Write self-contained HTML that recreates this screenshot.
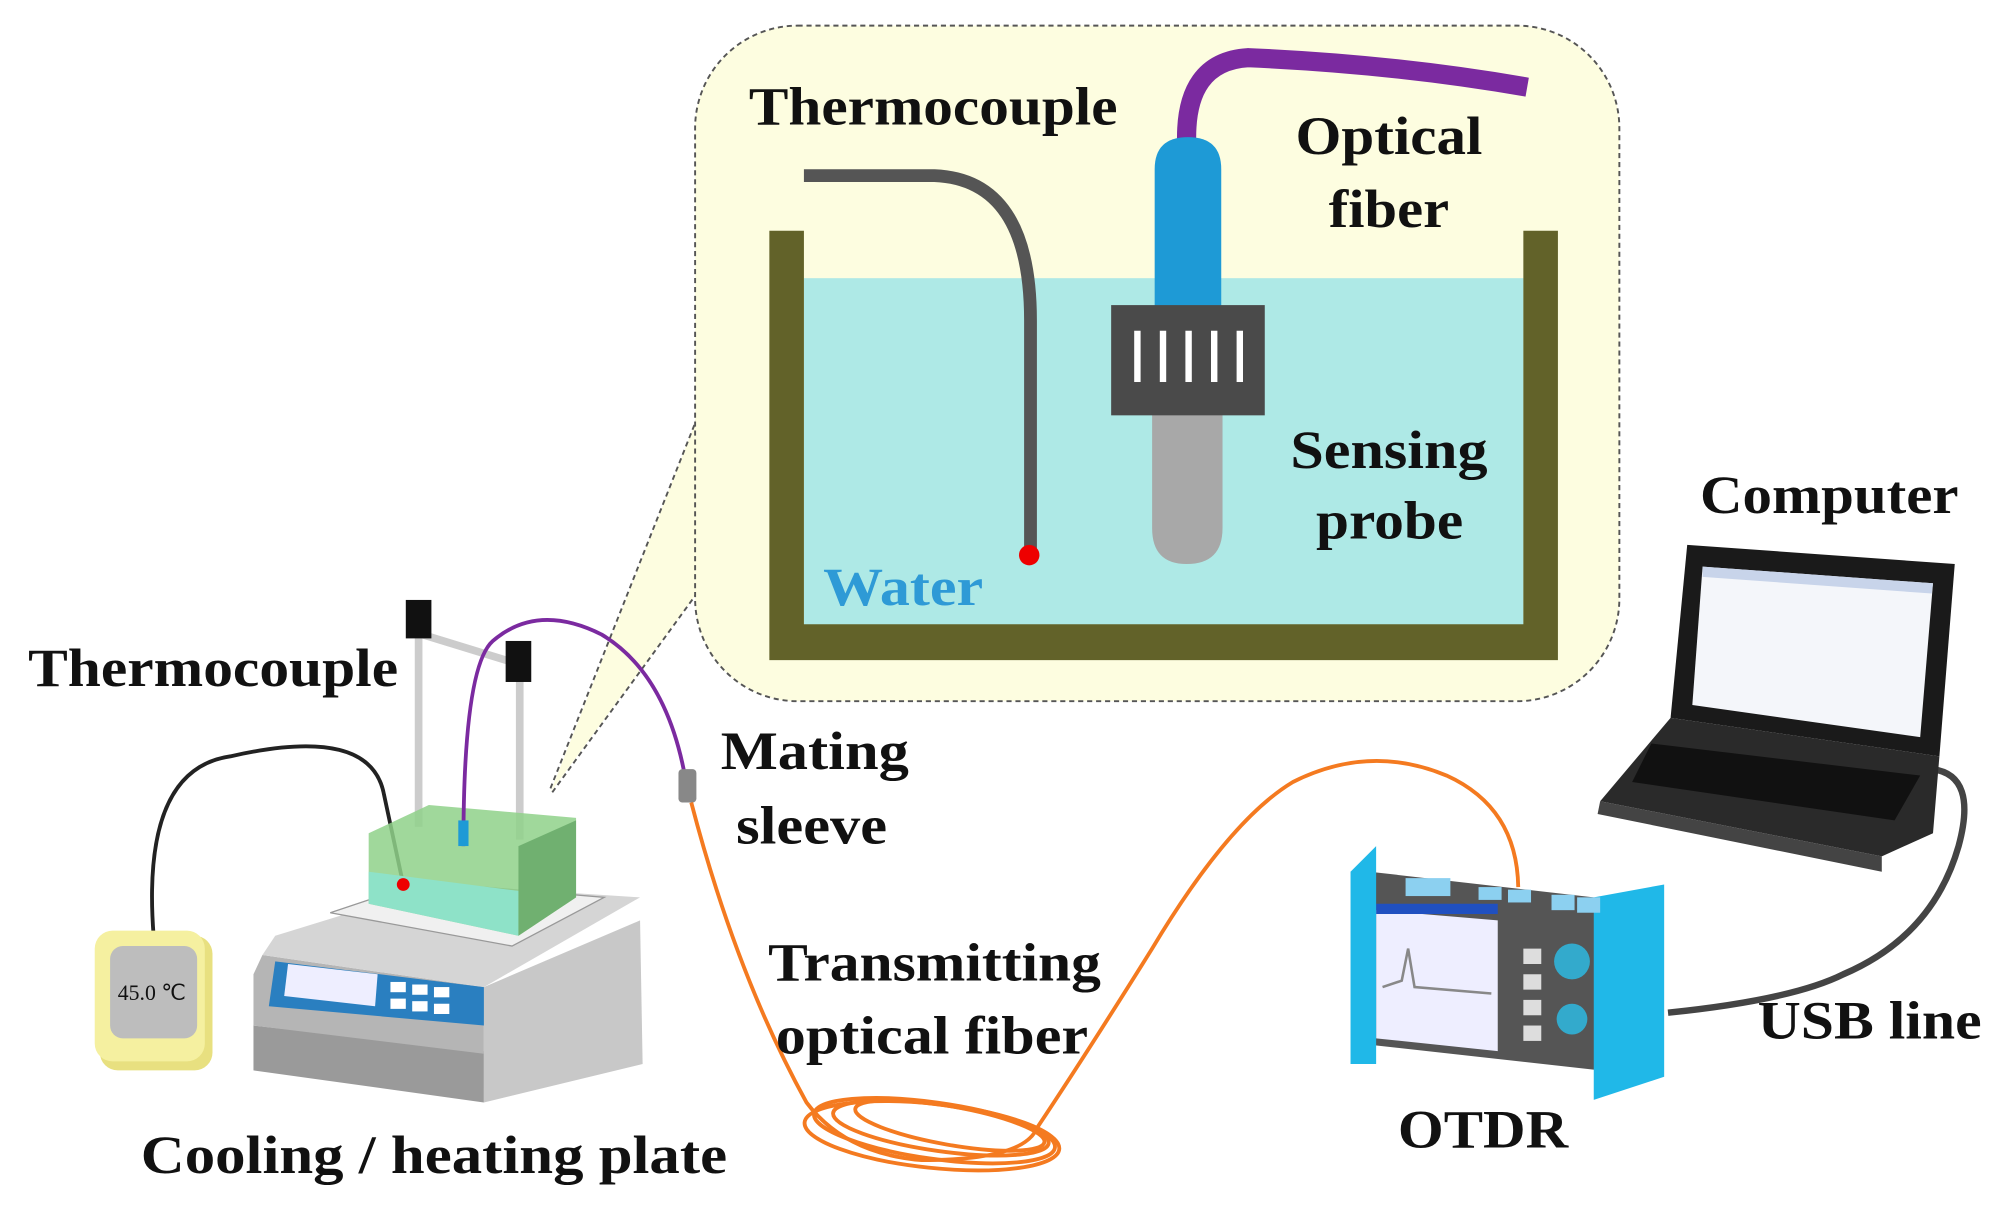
<!DOCTYPE html>
<html><head><meta charset="utf-8"><style>
html,body{margin:0;padding:0;background:#fff;}
svg{display:block}
text{font-family:"Liberation Serif",serif;font-weight:bold;fill:#111;font-size:42px}
</style></head><body>
<svg width="1997" height="1205" viewBox="0 0 1560 940" preserveAspectRatio="none" xmlns="http://www.w3.org/2000/svg">
<!-- callout -->
<polygon points="545,325 430,618 545,462" fill="#fdfde0"/>
<line x1="545" y1="325" x2="430" y2="615" stroke="#555" stroke-width="1.5" stroke-dasharray="4,3"/>
<line x1="545" y1="462" x2="430" y2="620" stroke="#555" stroke-width="1.5" stroke-dasharray="4,3"/>
<rect x="543" y="20" width="722" height="527" rx="80" fill="#fdfde0" stroke="#555" stroke-width="1.5" stroke-dasharray="4,3"/>
<rect x="628" y="217" width="562" height="272" fill="#aee9e6"/>
<path d="M601,180 H628 V487 H1190 V180 H1217 V515 H601 Z" fill="#626229"/>
<path d="M628,137 H730 Q805,140 805,250 V432" fill="none" stroke="#555" stroke-width="10"/>
<circle cx="804" cy="433" r="8" fill="#e00"/>
<path d="M927,112 Q925,48 975,45 Q1090,50 1193,68" fill="none" stroke="#7b2aa0" stroke-width="15"/>
<path d="M902,240 V132 Q902,107 928,107 Q954,107 954,132 V240 Z" fill="#1e9ad6"/>
<path d="M900,322 H955 V412 Q955,440 927,440 Q900,440 900,412 Z" fill="#a8a8a8"/>
<rect x="868" y="238" width="120" height="86" fill="#4a4a4a"/>
<g fill="#fff"><rect x="886" y="258" width="5" height="40"/><rect x="906" y="258" width="5" height="40"/><rect x="926" y="258" width="5" height="40"/><rect x="946" y="258" width="5" height="40"/><rect x="966" y="258" width="5" height="40"/></g>
<text x="585" y="97" textLength="288" lengthAdjust="spacingAndGlyphs">Thermocouple</text>
<text x="1012" y="120" textLength="146" lengthAdjust="spacingAndGlyphs">Optical</text>
<text x="1038" y="177" textLength="94" lengthAdjust="spacingAndGlyphs">fiber</text>
<text x="1008" y="365" textLength="154" lengthAdjust="spacingAndGlyphs">Sensing</text>
<text x="1028" y="420" textLength="115" lengthAdjust="spacingAndGlyphs">probe</text>
<text x="643" y="472" textLength="125" lengthAdjust="spacingAndGlyphs" style="fill:#2e9ad6">Water</text>
<!-- left setup -->
<path d="M120,730 Q110,600 180,590 Q290,565 300,620 L315,690" fill="none" stroke="#222" stroke-width="3"/>
<rect x="78" y="730" width="88" height="105" rx="14" fill="#e8e080"/>
<rect x="74" y="726" width="86" height="102" rx="14" fill="#f5f0a0"/>
<rect x="86" y="738" width="68" height="72" rx="10" fill="#bdbdbd"/>
<text x="92" y="780" style="font-size:17px;font-weight:normal">45.0 ℃</text>
<polygon points="198,800 378,820 378,860 198,835" fill="#9a9a9a"/>
<polygon points="205,745 378,770 378,822 198,800 198,760" fill="#b5b5b5"/>
<polygon points="378,770 500,718 502,830 378,860" fill="#c8c8c8"/>
<polygon points="215,730 345,690 500,700 378,770 205,745" fill="#d5d5d5"/>
<polygon points="258,712 330,688 472,700 400,738" fill="#f0f0f0" stroke="#999"/>
<polygon points="215,750 378,770 378,800 210,785" fill="#2a7fc0"/>
<polygon points="225,752 295,760 293,785 222,777" fill="#eef"/>
<g fill="#fff"><rect x="305" y="766" width="12" height="8"/><rect x="322" y="768" width="12" height="8"/><rect x="339" y="770" width="12" height="8"/><rect x="305" y="779" width="12" height="8"/><rect x="322" y="781" width="12" height="8"/><rect x="339" y="783" width="12" height="8"/></g>
<rect x="324" y="490" width="6" height="155" fill="#ccc"/>
<rect x="403" y="525" width="6" height="130" fill="#ccc"/>
<line x1="330" y1="495" x2="405" y2="518" stroke="#ccc" stroke-width="6"/>
<rect x="317" y="468" width="20" height="30" fill="#111"/>
<rect x="395" y="500" width="20" height="32" fill="#111"/>
<polygon points="288,650 335,628 450,638 450,700 405,730 288,705" fill="#8fd18a" opacity="0.85"/>
<polygon points="288,680 405,695 405,730 288,705" fill="#8ee2c8"/>
<polygon points="405,660 450,640 450,700 405,730" fill="#70b070"/>
<path d="M362,660 Q362,520 385,500 Q420,470 470,495 Q520,525 535,605" fill="none" stroke="#7b2aa0" stroke-width="3"/>
<rect x="358" y="640" width="8" height="20" fill="#1e9ad6"/>
<circle cx="315" cy="690" r="5" fill="#e00"/>
<rect x="530" y="600" width="14" height="26" rx="3" fill="#888"/>
<!-- orange fiber -->
<g fill="none" stroke="#f47a20" stroke-width="3">
<path d="M540,626 Q575,760 630,860 Q660,900 720,905 Q800,905 810,880 Q850,820 900,740 Q960,640 1010,610 Q1070,580 1130,605 Q1185,630 1186,692"/>
<ellipse cx="730" cy="882" rx="95" ry="22" transform="rotate(8 730 882)"/>
<ellipse cx="735" cy="880" rx="85" ry="18" transform="rotate(8 735 880)"/>
<ellipse cx="728" cy="886" rx="100" ry="25" transform="rotate(6 728 886)"/>
<ellipse cx="742" cy="878" rx="75" ry="15" transform="rotate(10 742 878)"/>
</g>
<!-- OTDR -->
<polygon points="1070,680 1245,700 1250,835 1070,815" fill="#555"/>
<polygon points="1075,710 1170,718 1170,820 1075,810" fill="#eef"/>
<rect x="1075" y="705" width="95" height="8" fill="#2050c0"/>
<polyline points="1080,770 1095,765 1100,740 1105,770 1165,775" fill="none" stroke="#888" stroke-width="2"/>
<circle cx="1228" cy="750" r="14" fill="#3ac"/>
<circle cx="1228" cy="795" r="12" fill="#3ac"/>
<g fill="#ddd"><rect x="1190" y="740" width="14" height="12"/><rect x="1190" y="760" width="14" height="12"/><rect x="1190" y="780" width="14" height="12"/><rect x="1190" y="800" width="14" height="12"/></g>
<polygon points="1055,680 1075,660 1075,830 1055,830" fill="#20b8e8"/>
<polygon points="1245,700 1300,690 1300,840 1245,858" fill="#20b8e8"/>
<g fill="#8cd0f0"><rect x="1098" y="685" width="35" height="14"/><rect x="1155" y="692" width="18" height="10"/><rect x="1178" y="694" width="18" height="10"/><rect x="1212" y="698" width="18" height="12"/><rect x="1232" y="700" width="18" height="12"/></g>
<!-- laptop -->
<path d="M1510,600 Q1545,605 1530,660 Q1510,730 1440,760 Q1400,780 1303,790" fill="none" stroke="#444" stroke-width="5"/>
<polygon points="1318,425 1527,440 1515,590 1305,560" fill="#1a1a1a"/>
<polygon points="1330,442 1510,455 1500,575 1322,550" fill="#f4f6fa"/>
<polygon points="1330,442 1510,455 1509,463 1330,450" fill="#c8d4ea"/>
<polygon points="1305,560 1515,590 1510,650 1470,668 1250,625" fill="#2a2a2a"/>
<polygon points="1290,580 1500,605 1480,640 1275,610" fill="#111"/>
<polygon points="1250,625 1470,668 1470,680 1248,635" fill="#444"/>
<!-- labels -->
<text x="1328" y="400" textLength="202" lengthAdjust="spacingAndGlyphs">Computer</text>
<text x="22" y="535" textLength="289" lengthAdjust="spacingAndGlyphs">Thermocouple</text>
<text x="563" y="600" textLength="147" lengthAdjust="spacingAndGlyphs">Mating</text>
<text x="575" y="658" textLength="118" lengthAdjust="spacingAndGlyphs">sleeve</text>
<text x="600" y="765" textLength="260" lengthAdjust="spacingAndGlyphs">Transmitting</text>
<text x="606" y="822" textLength="244" lengthAdjust="spacingAndGlyphs">optical fiber</text>
<text x="110" y="915" textLength="458" lengthAdjust="spacingAndGlyphs">Cooling / heating plate</text>
<text x="1092" y="895" textLength="133" lengthAdjust="spacingAndGlyphs">OTDR</text>
<text x="1373" y="810" textLength="175" lengthAdjust="spacingAndGlyphs">USB line</text>
</svg>
</body></html>
